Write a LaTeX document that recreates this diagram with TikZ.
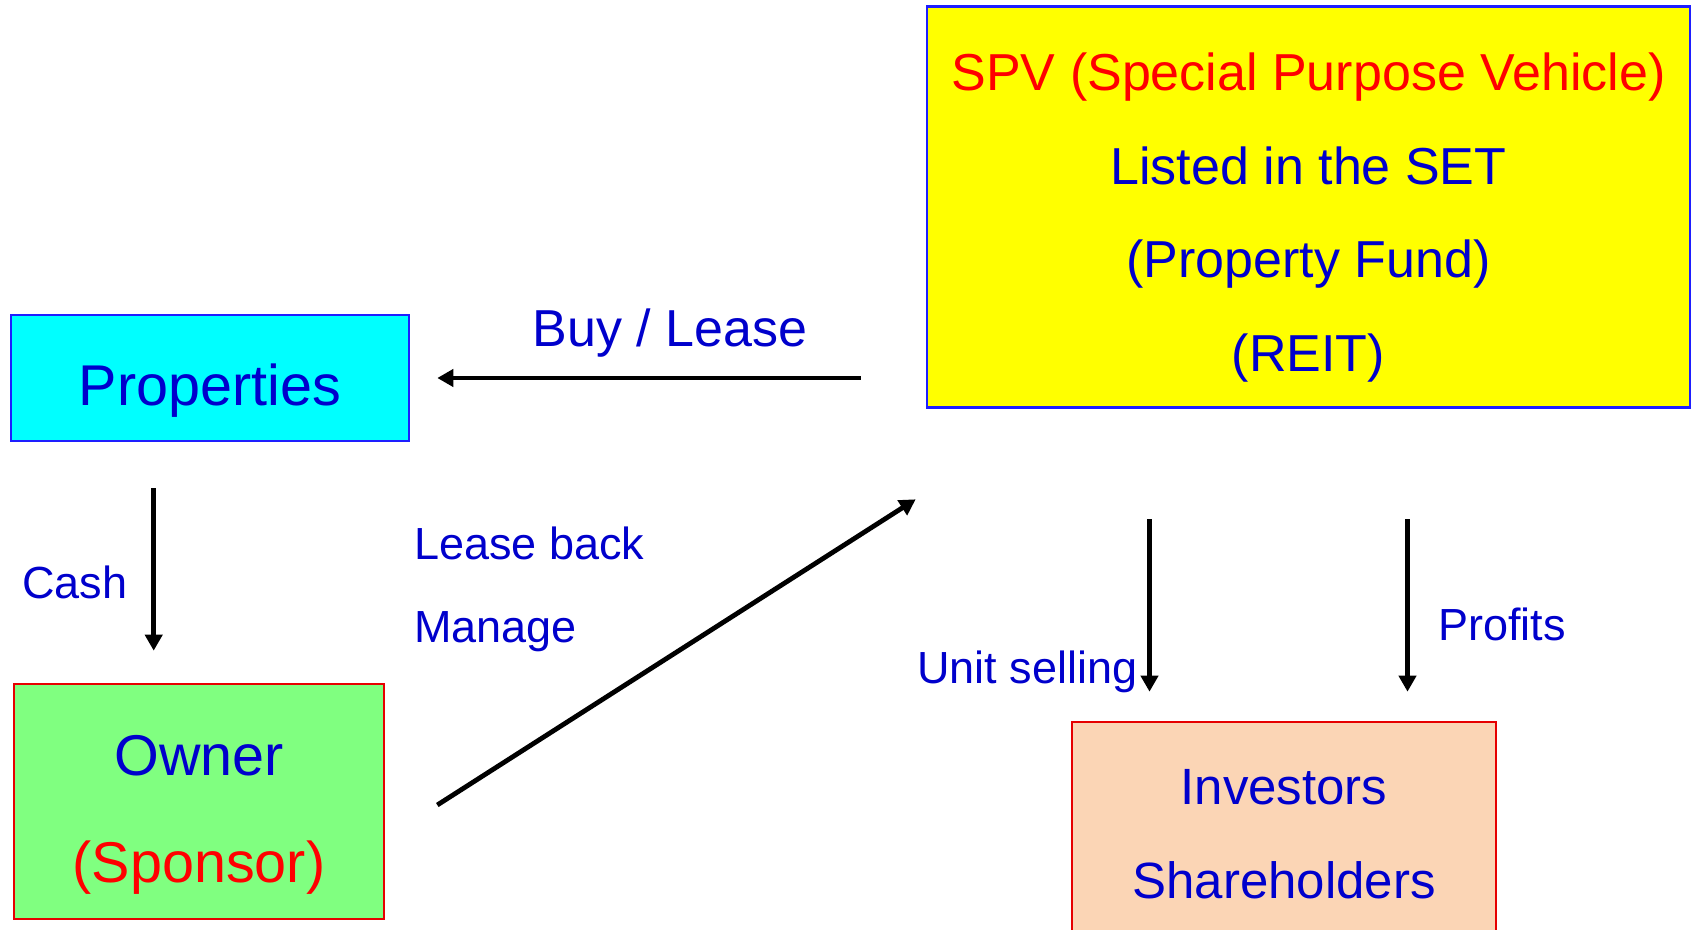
\documentclass[tikz,border=0pt]{standalone}
\usepackage{fontspec}
\setmainfont{Liberation Sans}
\usetikzlibrary{positioning, arrows.meta}
\definecolor{txtblue}{RGB}{0,0,204}
\definecolor{edgeblue}{RGB}{30,30,255}
\definecolor{edgered}{RGB}{230,0,0}
\definecolor{propcyan}{RGB}{0,255,255}
\definecolor{spvyellow}{RGB}{255,255,0}
\definecolor{ownergreen}{RGB}{128,255,128}
\definecolor{invpeach}{RGB}{251,213,181}
\tikzset{
	box/.style={draw, line width=1.3pt, inner sep=0pt},
	flow/.style={line width=2.4pt, -{Triangle[length=8pt,width=8.5pt]}},
	big/.style={text=txtblue, inner sep=0pt, align=center},
	lbl/.style={text=txtblue, inner sep=0pt, font=\fontsize{22.5}{27}\selectfont},
}

\begin{document}
\begin{tikzpicture}[x=0.5pt, y=-0.5pt]
		\useasboundingbox (0,0) rectangle (1695,930);
		\clip (0,0) rectangle (1695,930);
		\node[box, draw=edgeblue, fill=propcyan, minimum width=199pt, minimum height=63pt] (props) at (210,378) {};
		\node[box, draw=edgeblue, fill=spvyellow, minimum width=381.5pt, minimum height=200.5pt] (spv) at (1308.5,207) {};
		\node[box, draw=edgered, fill=ownergreen, minimum width=185pt, minimum height=117.5pt] (owner) at (199,801.5) {};
		\node[box, draw=edgered, fill=invpeach, minimum width=212pt, minimum height=109pt] (inv) at (1284,831) {};
		
		\node[big, font=\fontsize{28.75}{53.5}\selectfont] (propstxt) at ([yshift=-6.5pt]props.center) {Properties};
		\node[big, font=\fontsize{26}{46.7}\selectfont] (spvtxt) at ([yshift=-5.25pt]spv.center)
			{\textcolor{red}{SPV (Special Purpose Vehicle)}\\Listed in the SET\\(Property Fund)\\(REIT)};
		\node[big, font=\fontsize{28.75}{53.5}\selectfont] (ownertxt) at ([yshift=-6.75pt]owner.center)
			{Owner\\\textcolor{red}{(Sponsor)}};
		\node[big, font=\fontsize{25.5}{47.2}\selectfont] (invtxt) at ([yshift=-56.75pt]inv.north)
			{Investors\\Shareholders};
		
		\node[lbl, font=\fontsize{26}{30}\selectfont, anchor=base] (buylbl) at (670,347) {Buy / Lease};
		\node[lbl, anchor=base west] (cashlbl) at (22,598) {Cash};
		\node[lbl, anchor=base west] (leaselbl) at (414,559) {Lease back};
		\node[lbl, anchor=base west] (managelbl) at (414,642) {Manage};
		\node[lbl, anchor=base west] (selllbl) at (917,683) {Unit selling};
		\node[lbl, anchor=base west] (profitlbl) at (1438,640) {Profits};
		
		\draw[flow, shorten <=32.5pt, shorten >=13.5pt] (props.east -| spv.west) -- (props.east);
		\coordinate (cashx) at ([xshift=-28.15pt]props.south);
		\draw[flow, shorten <=23pt, shorten >=16pt] (cashx) -- (cashx |- owner.north);
		\draw[flow] ([xshift=26pt,yshift=-1.75pt]owner.east) -- ([xshift=-5pt,yshift=-45.25pt]spv.south west);
		\coordinate (sellx) at ([xshift=-67.25pt]inv.north);
		\coordinate (profitx) at ([xshift=61.75pt]inv.north);
		\foreach \c in {sellx, profitx}
			\draw[flow, shorten <=55.25pt, shorten >=14.5pt] (\c |- spv.south) -- (\c);
	\end{tikzpicture}
\end{document}
